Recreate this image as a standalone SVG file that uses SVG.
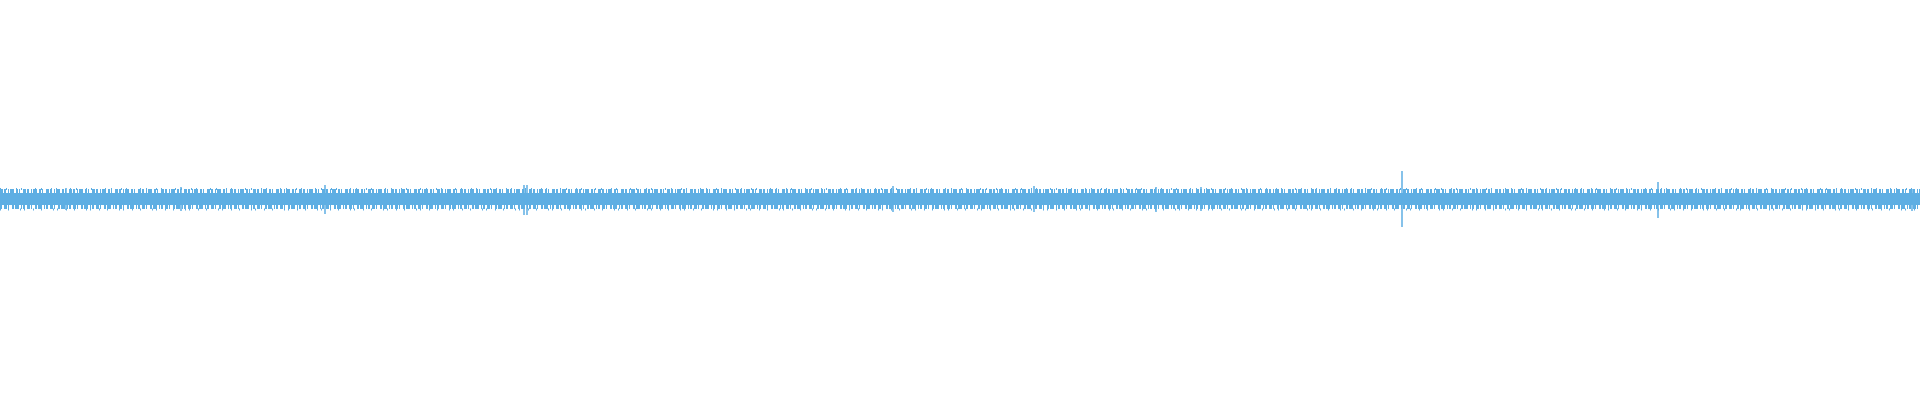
<svg xmlns="http://www.w3.org/2000/svg" width="1920" height="400" viewBox="0 0 1920 400">
<style>.w{stroke:#5eaee3;fill:none}.c{fill:#5eaee3}</style>
<rect width="1920" height="400" fill="#fff"/>
<g id="waveform">
<rect class="c" x="0" y="193" width="1920" height="12"/>
<line class="w" x1="0" y1="191" x2="1920" y2="191" stroke-width="4" stroke-dasharray="3 1 2 2 1 1 4 2 2 1 1 3"/>
<line class="w" x1="0" y1="207" x2="1920" y2="207" stroke-width="4" stroke-dasharray="2 2 3 1 1 3 2 1 4 2 1 1"/>
<line class="w" x1="0" y1="189" x2="1920" y2="189" stroke-width="2" stroke-dasharray="1 5 1 9 1 4 1 13"/>
<line class="w" x1="0" y1="209.5" x2="1920" y2="209.5" stroke-width="2" stroke-dasharray="1 7 1 11 1 3 1 8"/>
<g stroke-width="1.5" class="w">
<line x1="1402" y1="171" x2="1402" y2="227"/>
<line x1="1658" y1="182" x2="1658" y2="218"/>
<line x1="524" y1="185" x2="524" y2="215"/>
<line x1="527" y1="185" x2="527" y2="215"/>
<line x1="893" y1="186" x2="893" y2="212"/>
<line x1="181" y1="187" x2="181" y2="211"/>
<line x1="325" y1="185" x2="325" y2="214"/>
<line x1="1034" y1="186" x2="1034" y2="212"/>
<line x1="1156" y1="187" x2="1156" y2="212"/>
<line x1="1201" y1="187" x2="1201" y2="211"/>
<line x1="66" y1="188" x2="66" y2="210"/>
<line x1="1912" y1="189" x2="1912" y2="211"/>
</g>
</g>
</svg>
